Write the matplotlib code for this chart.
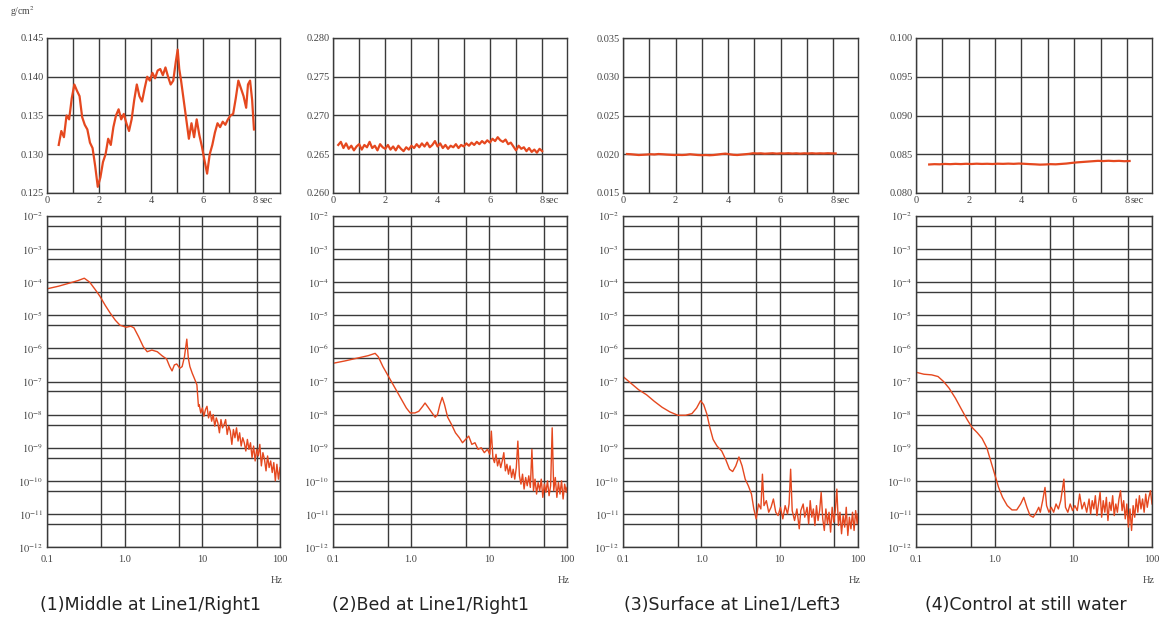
import numpy as np
import matplotlib
matplotlib.use("Agg")
import matplotlib.pyplot as plt
from matplotlib.ticker import FixedLocator, NullFormatter

plt.rcParams.update({
    'font.family': 'Liberation Serif',
    'mathtext.fontset': 'stix',
})

# ---- time series (g/cm^2 vs sec) ----
t1 = [0.45, 0.55, 0.65, 0.75, 0.85, 0.95, 1.05, 1.15, 1.25, 1.35, 1.45, 1.55, 1.65, 1.75, 1.85, 1.95,
      2.05, 2.15, 2.25, 2.35, 2.45, 2.55, 2.65, 2.75, 2.85, 2.95, 3.05, 3.15, 3.25, 3.35, 3.45, 3.55,
      3.65, 3.75, 3.85, 3.95, 4.05, 4.15, 4.25, 4.35, 4.45, 4.55, 4.65, 4.75, 4.85, 4.95, 5.02, 5.08,
      5.15, 5.25, 5.35, 5.45, 5.55, 5.65, 5.75, 5.85, 5.95, 6.05, 6.15, 6.25, 6.35, 6.45, 6.55, 6.65,
      6.75, 6.85, 6.95, 7.05, 7.15, 7.25, 7.35, 7.45, 7.55, 7.65, 7.72, 7.80, 7.88, 7.95]
v1 = [.1312, .1330, .1322, .1350, .1345, .1372, .1390, .1382, .1375, .1348, .1338, .1332, .1315, .1308, .1285, .1258,
      .1270, .1290, .1300, .1320, .1312, .1335, .1350, .1358, .1345, .1352, .1340, .1330, .1345, .1370, .1390, .1375,
      .1368, .1385, .1400, .1395, .1405, .1398, .1408, .1410, .1402, .1412, .1400, .1390, .1395, .1420, .1435, .1410,
      .1395, .1370, .1345, .1320, .1340, .1322, .1345, .1325, .1310, .1292, .1275, .1300, .1312, .1328, .1340, .1335,
      .1342, .1338, .1345, .1350, .1352, .1372, .1395, .1385, .1375, .1360, .1390, .1395, .1370, .1332]

t2 = [0.2, 0.3, 0.4, 0.5, 0.6, 0.7, 0.8, 0.9, 1.0, 1.1, 1.2, 1.3, 1.4, 1.5, 1.6, 1.7, 1.8, 1.9, 2.0,
      2.1, 2.2, 2.3, 2.4, 2.5, 2.6, 2.7, 2.8, 2.9, 3.0, 3.1, 3.2, 3.3, 3.4, 3.5, 3.6, 3.7, 3.8, 3.9, 4.0,
      4.1, 4.2, 4.3, 4.4, 4.5, 4.6, 4.7, 4.8, 4.9, 5.0, 5.1, 5.2, 5.3, 5.4, 5.5, 5.6, 5.7, 5.8, 5.9, 6.0,
      6.1, 6.2, 6.3, 6.4, 6.5, 6.6, 6.7, 6.8, 6.9, 7.0, 7.1, 7.2, 7.3, 7.4, 7.5, 7.6, 7.7, 7.8, 7.9, 8.0]
v2 = [.2662, .2666, .2658, .2664, .2657, .2661, .2655, .2660, .2663, .2656, .2662, .2659, .2666, .2658, .2661, .2655,
      .2663, .2659, .2657, .2662, .2656, .2660, .2655, .2661, .2657, .2654, .2659, .2656, .2661, .2658, .2663, .2659,
      .2664, .2660, .2665, .2659, .2662, .2667, .2660, .2664, .2658, .2662, .2657, .2661, .2659, .2663, .2658, .2662,
      .2660, .2664, .2661, .2665, .2662, .2666, .2663, .2667, .2664, .2668, .2665, .2670, .2667, .2672, .2668, .2666,
      .2669, .2663, .2665, .2660, .2655, .2661, .2657, .2659, .2654, .2658, .2653, .2656, .2652, .2657, .2654]

t3 = [0.15, 0.3, 0.45, 0.6, 0.75, 0.9, 1.05, 1.2, 1.35, 1.5, 1.65, 1.8, 1.95, 2.1, 2.25, 2.4, 2.55, 2.7,
      2.85, 3.0, 3.15, 3.3, 3.45, 3.6, 3.75, 3.9, 4.05, 4.2, 4.35, 4.5, 4.65, 4.8, 4.95, 5.1, 5.25, 5.4,
      5.55, 5.7, 5.85, 6.0, 6.15, 6.3, 6.45, 6.6, 6.75, 6.9, 7.05, 7.2, 7.35, 7.5, 7.65, 7.8, 7.95, 8.1]
v3 = [.02003, .02000, .01995, .01990, .01993, .01996, .02000, .01997, .02003, .02000, .01996, .01993, .01990, .01992,
      .01990, .01993, .02000, .01995, .01990, .01988, .01990, .01987, .01990, .01996, .02003, .02008, .02000, .01993,
      .01990, .01995, .02000, .02005, .02013, .02010, .02012, .02007, .02010, .02013, .02008, .02012, .02010, .02013,
      .02009, .02012, .02008, .02012, .02010, .02013, .02009, .02012, .02010, .02013, .02011, .02010]

t4 = [0.5, 0.7, 0.9, 1.1, 1.3, 1.5, 1.7, 1.9, 2.1, 2.3, 2.5, 2.7, 2.9, 3.1, 3.3, 3.5, 3.7, 3.9, 4.1, 4.3,
      4.5, 4.7, 4.9, 5.1, 5.3, 5.5, 5.7, 5.9, 6.1, 6.3, 6.5, 6.7, 6.9, 7.1, 7.3, 7.5, 7.7, 7.9, 8.1]
v4 = [.08368, .08372, .08370, .08375, .08372, .08376, .08373, .08377, .08374, .08378, .08375, .08377, .08374,
      .08378, .08376, .08379, .08376, .08380, .08377, .08373, .08370, .08366, .08368, .08372, .08370, .08375,
      .08380, .08388, .08395, .08400, .08405, .08410, .08415, .08412, .08416, .08412, .08415, .08410, .08413]

# ---- spectra: log10(Hz), log10(power) ----
lf1 = [-1.00, -0.85, -0.70, -0.60, -0.52, -0.45, -0.38, -0.32, -0.25, -0.19, -0.12, -0.06, 0.02, 0.08, 0.12, 0.18,
       0.24, 0.29, 0.35, 0.42, 0.48, 0.54, 0.58, 0.61, 0.64, 0.67, 0.71, 0.74, 0.77, 0.80, 0.82, 0.84, 0.87, 0.90,
       0.93, 0.95, 0.96, 0.98, 1.00, 1.02, 1.04, 1.06, 1.08, 1.10, 1.12, 1.14, 1.16, 1.18, 1.20, 1.22, 1.24, 1.26,
       1.28, 1.30, 1.32, 1.34, 1.36, 1.38, 1.40, 1.42, 1.44, 1.46, 1.48, 1.50, 1.52, 1.54, 1.56, 1.58, 1.60, 1.62,
       1.64, 1.66, 1.68, 1.70, 1.72, 1.74, 1.76, 1.78, 1.80, 1.82, 1.84, 1.86, 1.88, 1.90, 1.92, 1.94, 1.96, 1.98, 2.00]
lp1 = [-4.20, -4.12, -4.02, -3.95, -3.88, -4.00, -4.22, -4.42, -4.70, -4.92, -5.15, -5.30, -5.36, -5.33, -5.38, -5.65,
       -5.95, -6.10, -6.05, -6.10, -6.22, -6.32, -6.55, -6.68, -6.50, -6.47, -6.60, -6.55, -6.25, -5.72, -6.30, -6.55,
       -6.75, -6.92, -7.10, -7.75, -7.70, -7.95, -7.80, -8.05, -7.85, -7.75, -8.10, -7.90, -8.20, -8.00, -8.35, -8.10,
       -8.25, -8.55, -8.15, -8.40, -8.30, -8.15, -8.60, -8.35, -8.50, -8.90, -8.45, -8.70, -8.40, -8.80, -8.55, -8.95,
       -8.70, -8.85, -9.10, -8.75, -9.05, -8.85, -9.30, -8.95, -9.40, -9.05, -9.25, -8.90, -9.55, -9.15, -9.35, -9.70,
       -9.25, -9.60, -9.40, -9.75, -9.45, -10.00, -9.50, -9.95, -9.60]

lf2 = [-1.00, -0.85, -0.70, -0.55, -0.46, -0.42, -0.36, -0.30, -0.24, -0.18, -0.12, -0.06, -0.01, 0.05, 0.10, 0.15,
       0.18, 0.22, 0.27, 0.31, 0.34, 0.37, 0.40, 0.43, 0.47, 0.52, 0.57, 0.62, 0.66, 0.70, 0.74, 0.78, 0.82, 0.86,
       0.90, 0.94, 0.98, 1.01, 1.03, 1.05, 1.07, 1.09, 1.11, 1.13, 1.15, 1.17, 1.19, 1.21, 1.23, 1.25, 1.27, 1.29,
       1.31, 1.33, 1.35, 1.37, 1.39, 1.41, 1.43, 1.45, 1.47, 1.49, 1.51, 1.53, 1.55, 1.57, 1.59, 1.61, 1.63, 1.65,
       1.67, 1.69, 1.71, 1.73, 1.75, 1.77, 1.79, 1.81, 1.83, 1.85, 1.87, 1.89, 1.91, 1.93, 1.95, 1.97, 1.99, 2.00]
lp2 = [-6.45, -6.38, -6.30, -6.22, -6.15, -6.25, -6.55, -6.80, -7.05, -7.30, -7.55, -7.80, -7.95, -7.95, -7.90, -7.75,
       -7.65, -7.78, -7.95, -8.08, -8.00, -7.70, -7.48, -7.70, -8.08, -8.30, -8.55, -8.70, -8.85, -8.75, -8.65, -8.90,
       -8.85, -9.05, -9.00, -9.15, -9.05, -9.20, -8.50, -9.30, -9.45, -9.20, -9.55, -9.35, -9.60, -9.40, -9.15, -9.70,
       -9.50, -9.80, -9.55, -9.90, -9.65, -9.95, -9.60, -8.80, -9.85, -10.10, -9.80, -10.25, -9.90, -10.15, -9.85,
       -10.20, -9.05, -10.30, -9.95, -10.40, -10.05, -10.30, -9.95, -10.50, -10.10, -10.35, -10.00, -10.45, -10.15,
       -8.40, -10.30, -9.90, -10.50, -10.05, -10.40, -10.00, -10.55, -10.10, -10.35, -10.20]

lf3 = [-1.00, -0.90, -0.80, -0.70, -0.60, -0.50, -0.40, -0.30, -0.20, -0.12, -0.06, -0.01, 0.03, 0.07, 0.11, 0.15,
       0.20, 0.26, 0.31, 0.36, 0.40, 0.44, 0.48, 0.52, 0.56, 0.60, 0.64, 0.67, 0.70, 0.73, 0.76, 0.78, 0.80, 0.83,
       0.86, 0.89, 0.92, 0.95, 0.98, 1.01, 1.04, 1.07, 1.10, 1.12, 1.14, 1.16, 1.19, 1.22, 1.25, 1.27, 1.30, 1.32,
       1.35, 1.37, 1.39, 1.41, 1.43, 1.45, 1.47, 1.49, 1.51, 1.53, 1.55, 1.57, 1.59, 1.61, 1.63, 1.65, 1.67, 1.69,
       1.71, 1.73, 1.75, 1.77, 1.79, 1.81, 1.83, 1.85, 1.87, 1.89, 1.91, 1.93, 1.95, 1.97, 1.99, 2.00]
lp3 = [-6.85, -7.05, -7.25, -7.40, -7.60, -7.78, -7.92, -8.02, -8.02, -7.97, -7.80, -7.58, -7.70, -7.98, -8.40, -8.75,
       -8.95, -9.10, -9.35, -9.65, -9.72, -9.55, -9.28, -9.55, -9.95, -10.15, -10.40, -10.85, -11.15, -10.70, -10.85,
       -9.80, -10.75, -10.60, -10.95, -10.80, -10.55, -10.95, -11.05, -10.80, -11.15, -10.75, -11.00, -10.70, -9.65,
       -10.90, -11.20, -10.85, -11.45, -10.90, -10.70, -11.10, -10.80, -11.30, -10.60, -11.10, -10.85, -11.35, -10.75,
       -11.20, -10.90, -10.35, -11.15, -11.50, -10.85, -11.30, -10.95, -11.55, -10.80, -11.25, -10.90, -10.25, -11.35,
       -10.95, -11.60, -11.05, -11.40, -10.80, -11.65, -11.10, -11.45, -10.95, -11.50, -10.90, -11.30, -11.00]

lf4 = [-1.00, -0.90, -0.80, -0.72, -0.65, -0.58, -0.50, -0.42, -0.35, -0.29, -0.22, -0.16, -0.10, -0.05, 0.00, 0.05,
       0.10, 0.16, 0.22, 0.28, 0.33, 0.37, 0.41, 0.45, 0.49, 0.53, 0.56, 0.58, 0.61, 0.64, 0.66, 0.69, 0.72, 0.75,
       0.78, 0.81, 0.84, 0.88, 0.90, 0.93, 0.96, 0.99, 1.02, 1.05, 1.08, 1.11, 1.14, 1.17, 1.20, 1.22, 1.24, 1.26,
       1.28, 1.30, 1.32, 1.34, 1.36, 1.38, 1.40, 1.42, 1.44, 1.46, 1.48, 1.50, 1.52, 1.54, 1.56, 1.58, 1.60, 1.62,
       1.64, 1.66, 1.68, 1.70, 1.72, 1.74, 1.76, 1.78, 1.80, 1.82, 1.84, 1.86, 1.88, 1.90, 1.92, 1.94, 1.96, 1.98, 2.00]
lp4 = [-6.72, -6.78, -6.80, -6.85, -7.00, -7.20, -7.50, -7.85, -8.15, -8.38, -8.55, -8.72, -9.00, -9.40, -9.80, -10.20,
       -10.50, -10.75, -10.88, -10.88, -10.70, -10.50, -10.80, -11.05, -11.10, -10.95, -10.80, -10.95, -10.60, -10.20,
       -10.75, -10.95, -10.80, -10.95, -10.70, -10.85, -10.60, -9.95, -10.80, -10.95, -10.70, -10.90, -10.75, -10.90,
       -10.40, -10.85, -10.65, -10.95, -10.55, -11.00, -10.60, -10.85, -10.45, -11.05, -10.70, -10.35, -11.10, -10.60,
       -10.95, -10.50, -11.20, -10.65, -10.90, -10.45, -11.05, -10.70, -10.95, -10.55, -10.30, -10.90, -10.60, -11.15,
       -10.70, -11.40, -10.85, -11.50, -10.75, -11.10, -10.55, -10.95, -10.45, -10.85, -10.55, -10.95, -10.40, -10.80,
       -10.50, -10.30, -10.70]

ts_t = [t1, t2, t3, t4]
ts_v = [v1, v2, v3, v4]
ts_lim = [(0.125, 0.145), (0.260, 0.280), (0.015, 0.035), (0.080, 0.100)]
sp_f = [lf1, lf2, lf3, lf4]
sp_p = [lp1, lp2, lp3, lp4]
captions = ["(1)Middle at Line1/Right1", "(2)Bed at Line1/Right1",
            "(3)Surface at Line1/Left3", "(4)Control at still water"]

W, H = 1162, 617
left_px = [47, 333, 623, 916]
width_px = [233, 234, 235, 236]
caption_x = [150, 431, 732, 1026]
line_c = '#e5481f'
grid_c = '#3a3a3a'

fig = plt.figure(figsize=(W / 100, H / 100), dpi=100)

for i in range(4):
    x0 = left_px[i] / W
    w = width_px[i] / W

    # top: time series
    ax = fig.add_axes([x0, 1 - 193 / H, w, 155 / H])
    ax.plot(ts_t[i], ts_v[i], color=line_c, lw=1.6)
    lo, hi = ts_lim[i]
    ax.set_xlim(0, 8.95)
    ax.set_ylim(lo, hi)
    ax.set_xticks(range(9))
    ax.set_xticklabels(['0', '', '2', '', '4', '', '6', '', '8'])
    yt = [lo + k * 0.005 for k in range(5)]
    ax.set_yticks(yt)
    ax.set_yticklabels(['%.3f' % v for v in yt])
    ax.grid(True, color=grid_c, lw=1.0)
    ax.tick_params(length=0, labelsize=7.5, colors='#444444', pad=2)
    for s in ax.spines.values():
        s.set_color(grid_c)
        s.set_linewidth(1.0)
    ax.text(8.15, -0.02, 'sec', transform=ax.get_xaxis_transform(),
            fontsize=7.5, color='#444444', va='top')

    # bottom: spectrum
    bx = fig.add_axes([x0, 1 - 547 / H, w, 331 / H])
    bx.plot(10.0 ** np.array(sp_f[i]), 10.0 ** np.array(sp_p[i]), color=line_c, lw=1.0)
    bx.set_xscale('log')
    bx.set_yscale('log')
    bx.set_xlim(0.1, 100)
    bx.set_ylim(1e-12, 1e-2)
    bx.xaxis.set_major_locator(FixedLocator([0.1, 1, 10, 100]))
    bx.xaxis.set_minor_locator(FixedLocator([0.5, 5, 50]))
    bx.set_xticklabels(['0.1', '1.0', '10', '100'])
    bx.yaxis.set_major_locator(FixedLocator([10.0 ** -k for k in range(2, 13)]))
    bx.yaxis.set_minor_locator(FixedLocator([5 * 10.0 ** -k for k in range(3, 13)]))
    bx.set_yticklabels([r'$10^{-%d}$' % k for k in range(2, 13)])
    bx.xaxis.set_minor_formatter(NullFormatter())
    bx.yaxis.set_minor_formatter(NullFormatter())
    bx.grid(True, which='both', color=grid_c, lw=1.0)
    bx.tick_params(which='both', length=0, labelsize=7.5, colors='#444444', pad=3)
    bx.tick_params(axis='x', pad=6)
    for s in bx.spines.values():
        s.set_color(grid_c)
        s.set_linewidth(1.0)
    bx.text(0.985, -0.1, 'Hz', transform=bx.transAxes, fontsize=7.5,
            color='#444444', ha='center', va='center')

    fig.text(caption_x[i] / W, 1 - 605 / H, captions[i], ha='center', va='center',
             fontsize=12.5, family='DejaVu Sans', weight='medium', color='#222222')

fig.text(10 / W, 1 - 12 / H, r'g/cm$^2$', fontsize=7, color='#444444', va='center')

fig.savefig('out.png', dpi=100)
